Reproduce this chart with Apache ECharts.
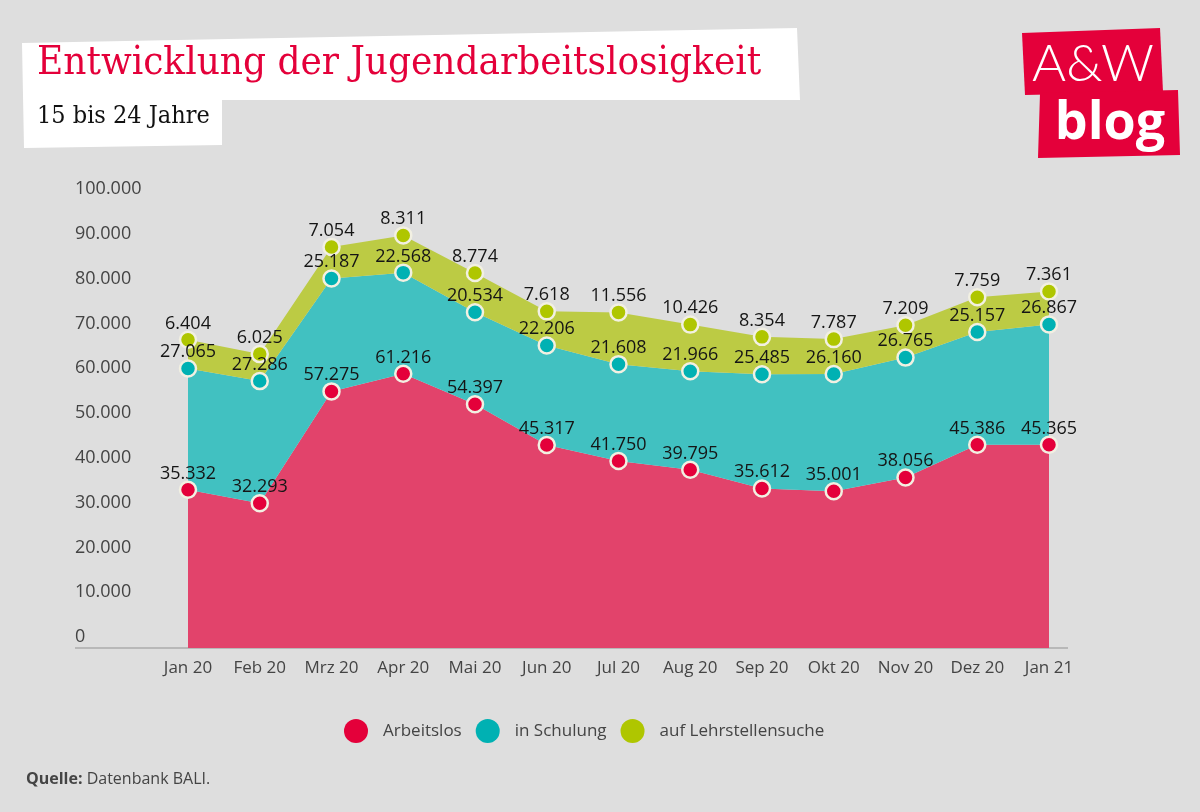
<!DOCTYPE html>
<html>
<head>
<meta charset="utf-8">
<script src="https://cdn.jsdelivr.net/npm/echarts@6/dist/echarts.min.js"></script>
<style>
html,body{margin:0;padding:0;background:#dedede;}
#c{width:1200px;height:812px;}
</style>
</head>
<body>
<div id="c"></div>
<script>
const categories = ['Jan 20','Feb 20','Mrz 20','Apr 20','Mai 20','Jun 20','Jul 20','Aug 20','Sep 20','Okt 20','Nov 20','Dez 20','Jan 21'];
const arbeitslos = [35332, 32293, 57275, 61216, 54397, 45317, 41750, 39795, 35612, 35001, 38056, 45386, 45365];
const schulung = [27065, 27286, 25187, 22568, 20534, 22206, 21608, 21966, 25485, 26160, 26765, 25157, 26867];
const lehrstelle = [6404, 6025, 7054, 8311, 8774, 7618, 11556, 10426, 8354, 7787, 7209, 7759, 7361];
const seriesNames = ['Arbeitslos', 'in Schulung', 'auf Lehrstellensuche'];

function fmt(v){ return String(v).replace(/\B(?=(\d{3})+(?!\d))/g, '.'); }

const FONT = '"Open Sans", "Noto Sans", sans-serif';
const pointColors = ['#e4003a', '#00b1b3', '#afc600'];
const areaColors = ['#e2436b', '#41c1c1', '#bccb44'];
const dataSets = [arbeitslos, schulung, lehrstelle];

const chart = echarts.init(document.getElementById('c'), null, {renderer:'canvas'});

// area layers
const areaSeries = dataSets.map((d, i) => ({
  name: seriesNames[i],
  type: 'line',
  stack: 'area',
  data: d,
  showSymbol: false,
  symbol: 'none',
  itemStyle: { color: pointColors[i] },
  lineStyle: { width: 0 },
  areaStyle: { color: areaColors[i], opacity: 1 },
  silent: true,
  z: 2
}));
// points + labels on top of all areas
const pointSeries = dataSets.map((d, i) => ({
  name: seriesNames[i],
  type: 'line',
  stack: 'points',
  data: d,
  symbol: 'circle',
  symbolSize: 16,
  itemStyle: { color: pointColors[i], borderColor: '#f2f0e2', borderWidth: 2.5 },
  lineStyle: { width: 0, opacity: 0 },
  label: {
    show: true, position: 'top', distance: -2,
    formatter: p => fmt(p.value),
    fontFamily: FONT, fontSize: 18, color: '#151515'
  },
  z: 10
}));

chart.setOption({
  animation: false,
  backgroundColor: '#dedede',
  grid: { left: 188, right: 151, top: 200, bottom: 164 },
  xAxis: {
    type: 'category', data: categories, boundaryGap: false,
    axisLine: { show: false }, axisTick: { show: false },
    axisLabel: { interval: 0, fontFamily: FONT, fontSize: 17, color: '#444', margin: 12 }
  },
  yAxis: {
    type: 'value', min: 0, max: 100000, interval: 10000,
    splitLine: { show: false }, axisLine: { show: false }, axisTick: { show: false },
    axisLabel: {
      formatter: v => fmt(v), align: 'left', verticalAlign: 'bottom',
      margin: 113, padding: [0,0,2,0],
      fontFamily: FONT, fontSize: 18, color: '#444'
    }
  },
  legend: {
    bottom: 64, left: 339, icon: 'circle', itemWidth: 24, itemHeight: 24, itemGap: 14,
    data: seriesNames.map((n, i) => ({ name: n, itemStyle: { color: pointColors[i], borderWidth: 0 } })),
    textStyle: { fontFamily: FONT, fontSize: 17, color: '#444', padding: [0,0,0,10] }
  },
  series: areaSeries.concat(pointSeries),
  graphic: [
    { type: 'line', shape: { x1: 75, y1: 648, x2: 1068, y2: 648 }, style: { stroke: '#b8b8b8', lineWidth: 2 }, z: 1 },
    { type: 'polygon', shape: { points: [[22,43],[797,28],[800,100],[222,100],[222,145],[24,148]] }, style: { fill: '#ffffff' }, z: 0 },
    { type: 'text', left: 37, top: 44, style: { text: 'Entwicklung der Jugendarbeitslosigkeit', fontFamily: '"DejaVu Serif Condensed", "DejaVu Serif", serif', fontSize: 40, fill: '#e4003a' }, z: 1 },
    { type: 'text', left: 37, top: 104, style: { text: '15 bis 24 Jahre', fontFamily: '"DejaVu Serif Condensed", "DejaVu Serif", serif', fontSize: 25, fill: '#111' }, z: 1 },
    { type: 'polygon', shape: { points: [[1022,33],[1160,28],[1163,92],[1025,95]] }, style: { fill: '#e4003a' }, z: 0 },
    { type: 'polygon', shape: { points: [[1040,93],[1178,90],[1180,155],[1038,158]] }, style: { fill: '#e4003a' }, z: 0 },
    { type: 'text', x: 1093, y: 64, style: { text: 'A&W', fontFamily: 'Lato, "Open Sans", sans-serif', fontWeight: 300, fontSize: 52, fill: '#fff', align: 'center', verticalAlign: 'middle' }, z: 1 },
    { type: 'text', x: 1110, y: 124, style: { text: 'blog', fontFamily: '"Open Sans", sans-serif', fontWeight: 'bold', fontSize: 52, fill: '#fff', align: 'center', verticalAlign: 'middle' }, z: 1 },
    { type: 'text', left: 26, top: 771, style: {
      text: '{b|Quelle:} Datenbank BALI.',
      rich: { b: { fontWeight: 'bold', fontFamily: FONT, fontSize: 16, fill: '#444' } },
      fontFamily: FONT, fontSize: 16, fill: '#444' }, z: 1 }
  ]
});
</script>
</body>
</html>
